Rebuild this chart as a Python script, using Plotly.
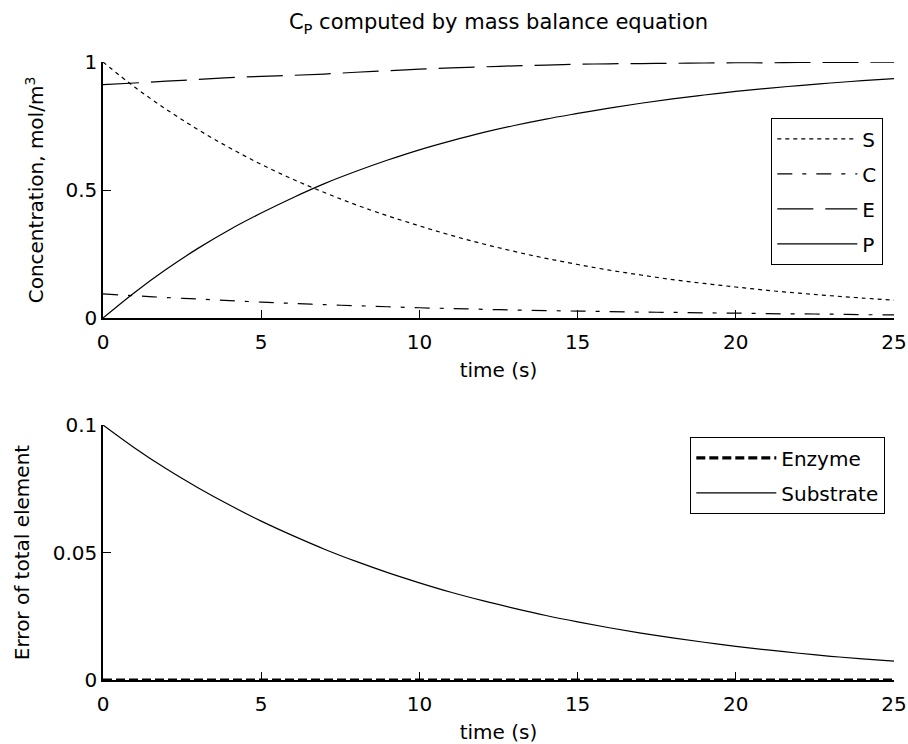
import plotly.graph_objects as go

# Time grid (s)
t = list(range(26))

# Concentrations, mol/m^3
S = [1.000, 0.902, 0.815, 0.736, 0.665, 0.600, 0.542, 0.490, 0.442, 0.399,
     0.360, 0.323, 0.290, 0.260, 0.233, 0.209, 0.187, 0.168, 0.150, 0.135,
     0.121, 0.108, 0.097, 0.087, 0.078, 0.070]
C = [0.094, 0.087, 0.080, 0.074, 0.068, 0.062, 0.057, 0.052, 0.048, 0.044,
     0.040, 0.037, 0.034, 0.031, 0.029, 0.027, 0.025, 0.023, 0.022, 0.020,
     0.019, 0.017, 0.016, 0.015, 0.013, 0.012]
E = [0.912, 0.918, 0.925, 0.932, 0.939, 0.944, 0.948, 0.953, 0.960, 0.966,
     0.972, 0.977, 0.981, 0.985, 0.988, 0.991, 0.993, 0.994, 0.995, 0.996,
     0.997, 0.997, 0.998, 0.998, 0.999, 0.999]
P = [0.000, 0.100, 0.190, 0.272, 0.345, 0.410, 0.470, 0.525, 0.573, 0.617,
     0.657, 0.692, 0.724, 0.752, 0.777, 0.799, 0.820, 0.839, 0.856, 0.871,
     0.885, 0.897, 0.908, 0.918, 0.927, 0.935]

# Error of total element
err_enzyme = [0.0] * 26
err_substrate = [0.1000, 0.0910, 0.0828, 0.0754, 0.0686, 0.0623, 0.0566, 0.0513,
                 0.0465, 0.0421, 0.0381, 0.0344, 0.0311, 0.0281, 0.0253, 0.0228,
                 0.0205, 0.0184, 0.0165, 0.0148, 0.0132, 0.0118, 0.0105, 0.0093,
                 0.0083, 0.0074]

x_ticks = [0, 5, 10, 15, 20, 25]
y1_ticks = [0, 0.5, 1]
y1_text = ["0", "0.5", "1"]
y2_ticks = [0, 0.05, 0.1]
y2_text = ["0", "0.05", "0.1"]

FONT = "DejaVu Sans"
FS = 20
thin = 1.2

fig = go.Figure()

top = [
    ("S", S, "4px,4px"),
    ("C", C, "15px,10px,4px,10px"),
    ("E", E, "36px,12px"),
    ("P", P, "solid"),
]
for name, ys, dash in top:
    fig.add_trace(go.Scatter(
        x=t, y=ys, name=name, mode="lines", line_shape="spline",
        line=dict(color="black", width=thin, dash=dash),
        xaxis="x", yaxis="y", legend="legend", legendgroup=name,
    ))

fig.add_trace(go.Scatter(
    x=t, y=err_enzyme, name="Enzyme", mode="lines",
    line=dict(color="black", width=3.2, dash="9px,4px"),
    xaxis="x2", yaxis="y2", legend="legend2", legendgroup="Enzyme",
))
fig.add_trace(go.Scatter(
    x=t, y=err_substrate, name="Substrate", mode="lines", line_shape="spline",
    line=dict(color="black", width=thin),
    xaxis="x2", yaxis="y2", legend="legend2", legendgroup="Substrate",
))

txt_font = dict(family=FONT, size=FS, color="black")

axis_common = dict(
    showline=True, linecolor="black", linewidth=1.5, mirror=False,
    ticks="inside", ticklen=8, tickwidth=1.3, tickcolor="black",
    showgrid=False, zeroline=False, automargin=False,
    tickfont=txt_font,
)

plot_left, plot_right = 103, 894
plot_top, plot_bottom = 62, 680
H = 744
W = 908
area_h = plot_bottom - plot_top
area_w = plot_right - plot_left
top_dom = [(plot_bottom - 318) / area_h, 1.0]
bot_dom = [0.0, (plot_bottom - 425) / area_h]

fig.update_layout(
    width=W, height=H,
    margin=dict(l=plot_left, r=W - plot_right, t=plot_top, b=H - plot_bottom,
                autoexpand=False),
    paper_bgcolor="white", plot_bgcolor="white",
    font=txt_font,
    title=dict(
        text="C<sub>P</sub> computed by mass balance equation",
        x=0.5, xref="paper", xanchor="center",
        y=1 - 22 / H, yref="container", yanchor="middle",
        font=dict(family=FONT, size=21, color="black"),
    ),
    xaxis=dict(axis_common, domain=[0, 1], range=[0, 25], tickvals=x_ticks,
               anchor="y", ticklabelstandoff=5,
               title=dict(text="time (s)", standoff=10, font=txt_font)),
    yaxis=dict(axis_common, domain=top_dom, range=[0, 1], tickvals=y1_ticks,
               ticktext=y1_text, anchor="x",
               title=dict(text="Concentration, mol/m<sup>3</sup>", standoff=16,
                          font=txt_font)),
    xaxis2=dict(axis_common, domain=[0, 1], range=[0, 25], tickvals=x_ticks,
                anchor="y2", ticklabelstandoff=5,
                title=dict(text="time (s)", standoff=10, font=txt_font)),
    yaxis2=dict(axis_common, domain=bot_dom, range=[0, 0.1], tickvals=y2_ticks,
                ticktext=y2_text, anchor="x2",
                title=dict(text="Error of total element", standoff=18,
                           font=txt_font)),
    legend=dict(
        x=(883 - plot_left) / area_w, xanchor="right",
        y=(plot_bottom - 118) / area_h, yanchor="top",
        bordercolor="black", borderwidth=1.3, bgcolor="white",
        font=txt_font, itemwidth=80, tracegroupgap=6,
    ),
    legend2=dict(
        x=(885 - plot_left) / area_w, xanchor="right",
        y=(plot_bottom - 437) / area_h, yanchor="top",
        bordercolor="black", borderwidth=1.3, bgcolor="white",
        font=txt_font, itemwidth=80, tracegroupgap=6,
    ),
)

fig.write_html("out.html")
